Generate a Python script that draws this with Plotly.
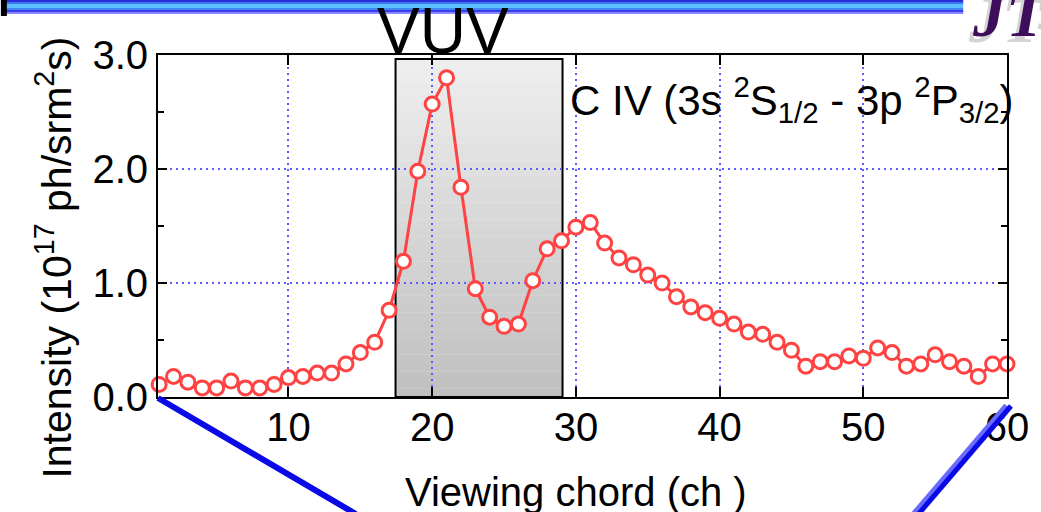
import plotly.graph_objects as go

# Viewing chord numbers and C IV line intensity (10^17 ph/srm^2 s)
chords = list(range(1, 61))
intensity = [
    0.11, 0.18, 0.13, 0.08, 0.08, 0.14, 0.08, 0.08, 0.11, 0.17,
    0.18, 0.21, 0.21, 0.29, 0.39, 0.48, 0.76, 1.19, 1.98, 2.57,
    2.80, 1.84, 0.95, 0.70, 0.62, 0.64, 1.02, 1.30, 1.37, 1.49,
    1.53, 1.35, 1.22, 1.16, 1.07, 1.00, 0.88, 0.79, 0.74, 0.69,
    0.64, 0.57, 0.55, 0.48, 0.41, 0.27, 0.31, 0.31, 0.36, 0.34,
    0.43, 0.39, 0.27, 0.29, 0.37, 0.31, 0.27, 0.18, 0.29, 0.29,
]
x_ticks = [10, 20, 30, 40, 50, 60]
y_ticks = [0.0, 1.0, 2.0, 3.0]

W, H = 1041, 512
L, R, T, B = 158, 29, 55, 115
PW, PH = W - L - R, H - T - B

FONT = "Liberation Sans, Arial, sans-serif"
RED = "#ff4242"
GRID = "#5c5cff"


def px(xp):
    return (xp - L) / PW


def py(yp):
    return (H - B - yp) / PH


shapes = []

# shaded VUV region with a vertical grey gradient
x0, x1, ytop = 17.45, 29.07, 2.965
n = 40
for i in range(n):
    f = i / (n - 1)
    g = int(round(0xc0 + (0xee - 0xc0) * f))
    shapes.append(dict(
        type="rect", xref="x", yref="y", layer="below",
        x0=x0, x1=x1, y0=ytop * i / n, y1=ytop * (i + 1) / n + 0.002,
        fillcolor=f"rgb({g},{g},{g})", line=dict(width=0),
    ))
shapes.append(dict(
    type="rect", xref="x", yref="y", layer="below",
    x0=x0, x1=x1, y0=0, y1=ytop,
    fillcolor="rgba(0,0,0,0)", line=dict(color="black", width=2),
))

# white box behind the line label
shapes.append(dict(
    type="rect", xref="paper", yref="paper", layer="between",
    x0=px(567), x1=px(1010), y0=py(128), y1=py(57),
    fillcolor="white", line=dict(width=0),
))

# header bar across the top
bands = [(0, 2, "#2b2bd6"), (2, 4, "#3d78f2"), (4, 8, "#5cc0ff"),
         (8, 10, "#3f8af2"), (10, 12, "#3a3af0"), (12, 14, "#8a8aff")]
for a, b, c in bands:
    shapes.append(dict(
        type="rect", xref="paper", yref="paper", layer="above",
        x0=px(0), x1=px(968), y0=py(b), y1=py(a),
        fillcolor=c, line=dict(width=0),
    ))
shapes.append(dict(
    type="rect", xref="paper", yref="paper", layer="above",
    x0=px(0), x1=px(6), y0=py(16), y1=py(0),
    fillcolor="black", line=dict(width=0),
))

# blue connector lines below the frame
shapes.append(dict(
    type="line", xref="paper", yref="paper", layer="above",
    x0=px(158), y0=py(398), x1=px(357), y1=py(514),
    line=dict(color="#0a0ae6", width=6),
))
shapes.append(dict(
    type="line", xref="paper", yref="paper", layer="above",
    x0=px(1012), y0=py(406), x1=px(919), y1=py(514),
    line=dict(color="#6a6aff", width=7),
))
shapes.append(dict(
    type="line", xref="paper", yref="paper", layer="above",
    x0=px(1016), y0=py(406), x1=px(923), y1=py(514),
    line=dict(color="#0a0ae6", width=5),
))

fig = go.Figure()
fig.add_trace(go.Scatter(
    x=chords, y=intensity, mode="lines+markers",
    line=dict(color=RED, width=3),
    marker=dict(symbol="circle", size=14, color="white",
                line=dict(color=RED, width=3)),
    cliponaxis=False, showlegend=False,
))

annotations = [
    dict(text="VUV", x=px(445), y=py(31), xref="paper", yref="paper",
         xanchor="center", yanchor="middle", showarrow=False,
         font=dict(family=FONT, size=64, color="black")),
    dict(text="C IV (3s <sup>2</sup>S<sub>1/2</sub> - 3p <sup>2</sup>P<sub>3/2</sub>)",
         x=px(570), y=py(100), xref="paper", yref="paper",
         xanchor="left", yanchor="middle", showarrow=False,
         font=dict(family=FONT, size=42, color="black")),
    dict(text="Viewing chord (ch )", x=px(578), y=py(492),
         xref="paper", yref="paper", xanchor="center", yanchor="middle",
         showarrow=False, font=dict(family=FONT, size=40, color="black")),
    dict(text="Intensity (10<sup>17</sup> ph/srm<sup>2</sup>s)",
         x=px(53), y=py(258), xref="paper", yref="paper",
         xanchor="center", yanchor="middle", textangle=-90, showarrow=False,
         font=dict(family=FONT, size=41, color="black")),
    # logo in the top-right corner
    dict(text="<b><i>JT-60</i></b>", x=px(971), y=py(20),
         xref="paper", yref="paper", xanchor="left", yanchor="middle",
         showarrow=False,
         font=dict(family="Liberation Serif, serif", size=66, color="#d4d4d4")),
    dict(text="<b><i>JT-60</i></b>", x=px(975), y=py(14),
         xref="paper", yref="paper", xanchor="left", yanchor="middle",
         showarrow=False,
         font=dict(family="Liberation Serif, serif", size=66, color="#3e0d5c")),
]

fig.update_layout(
    width=W, height=H,
    margin=dict(l=L, r=R, t=T, b=B, pad=0),
    paper_bgcolor="white", plot_bgcolor="white",
    shapes=shapes, annotations=annotations,
    font=dict(family=FONT, size=40, color="black"),
    xaxis=dict(
        range=[0.92, 60.0], tickmode="array", tickvals=x_ticks,
        ticktext=[str(v) for v in x_ticks],
        ticks="inside", ticklen=10, tickwidth=2, tickcolor="black",
        showline=True, linecolor="black", linewidth=2, mirror="ticks",
        showgrid=True, gridcolor=GRID, gridwidth=2, griddash="2px,4px",
        zeroline=False, ticklabelstandoff=-6,
        tickfont=dict(family=FONT, size=40, color="black"),
    ),
    yaxis=dict(
        range=[0.0, 3.0], tickmode="array", tickvals=y_ticks,
        ticktext=[f"{v:.1f}" for v in y_ticks],
        ticks="inside", ticklen=9, tickwidth=2, tickcolor="black",
        minor=dict(ticks="inside", ticklen=6, tickwidth=2, tickcolor="black",
                   dtick=0.5, showgrid=False),
        showline=True, linecolor="black", linewidth=2, mirror="ticks",
        showgrid=True, gridcolor=GRID, gridwidth=2, griddash="2px,4px",
        zeroline=False, ticklabelstandoff=0,
        tickfont=dict(family=FONT, size=40, color="black"),
    ),
)

fig.write_html("out.html")
